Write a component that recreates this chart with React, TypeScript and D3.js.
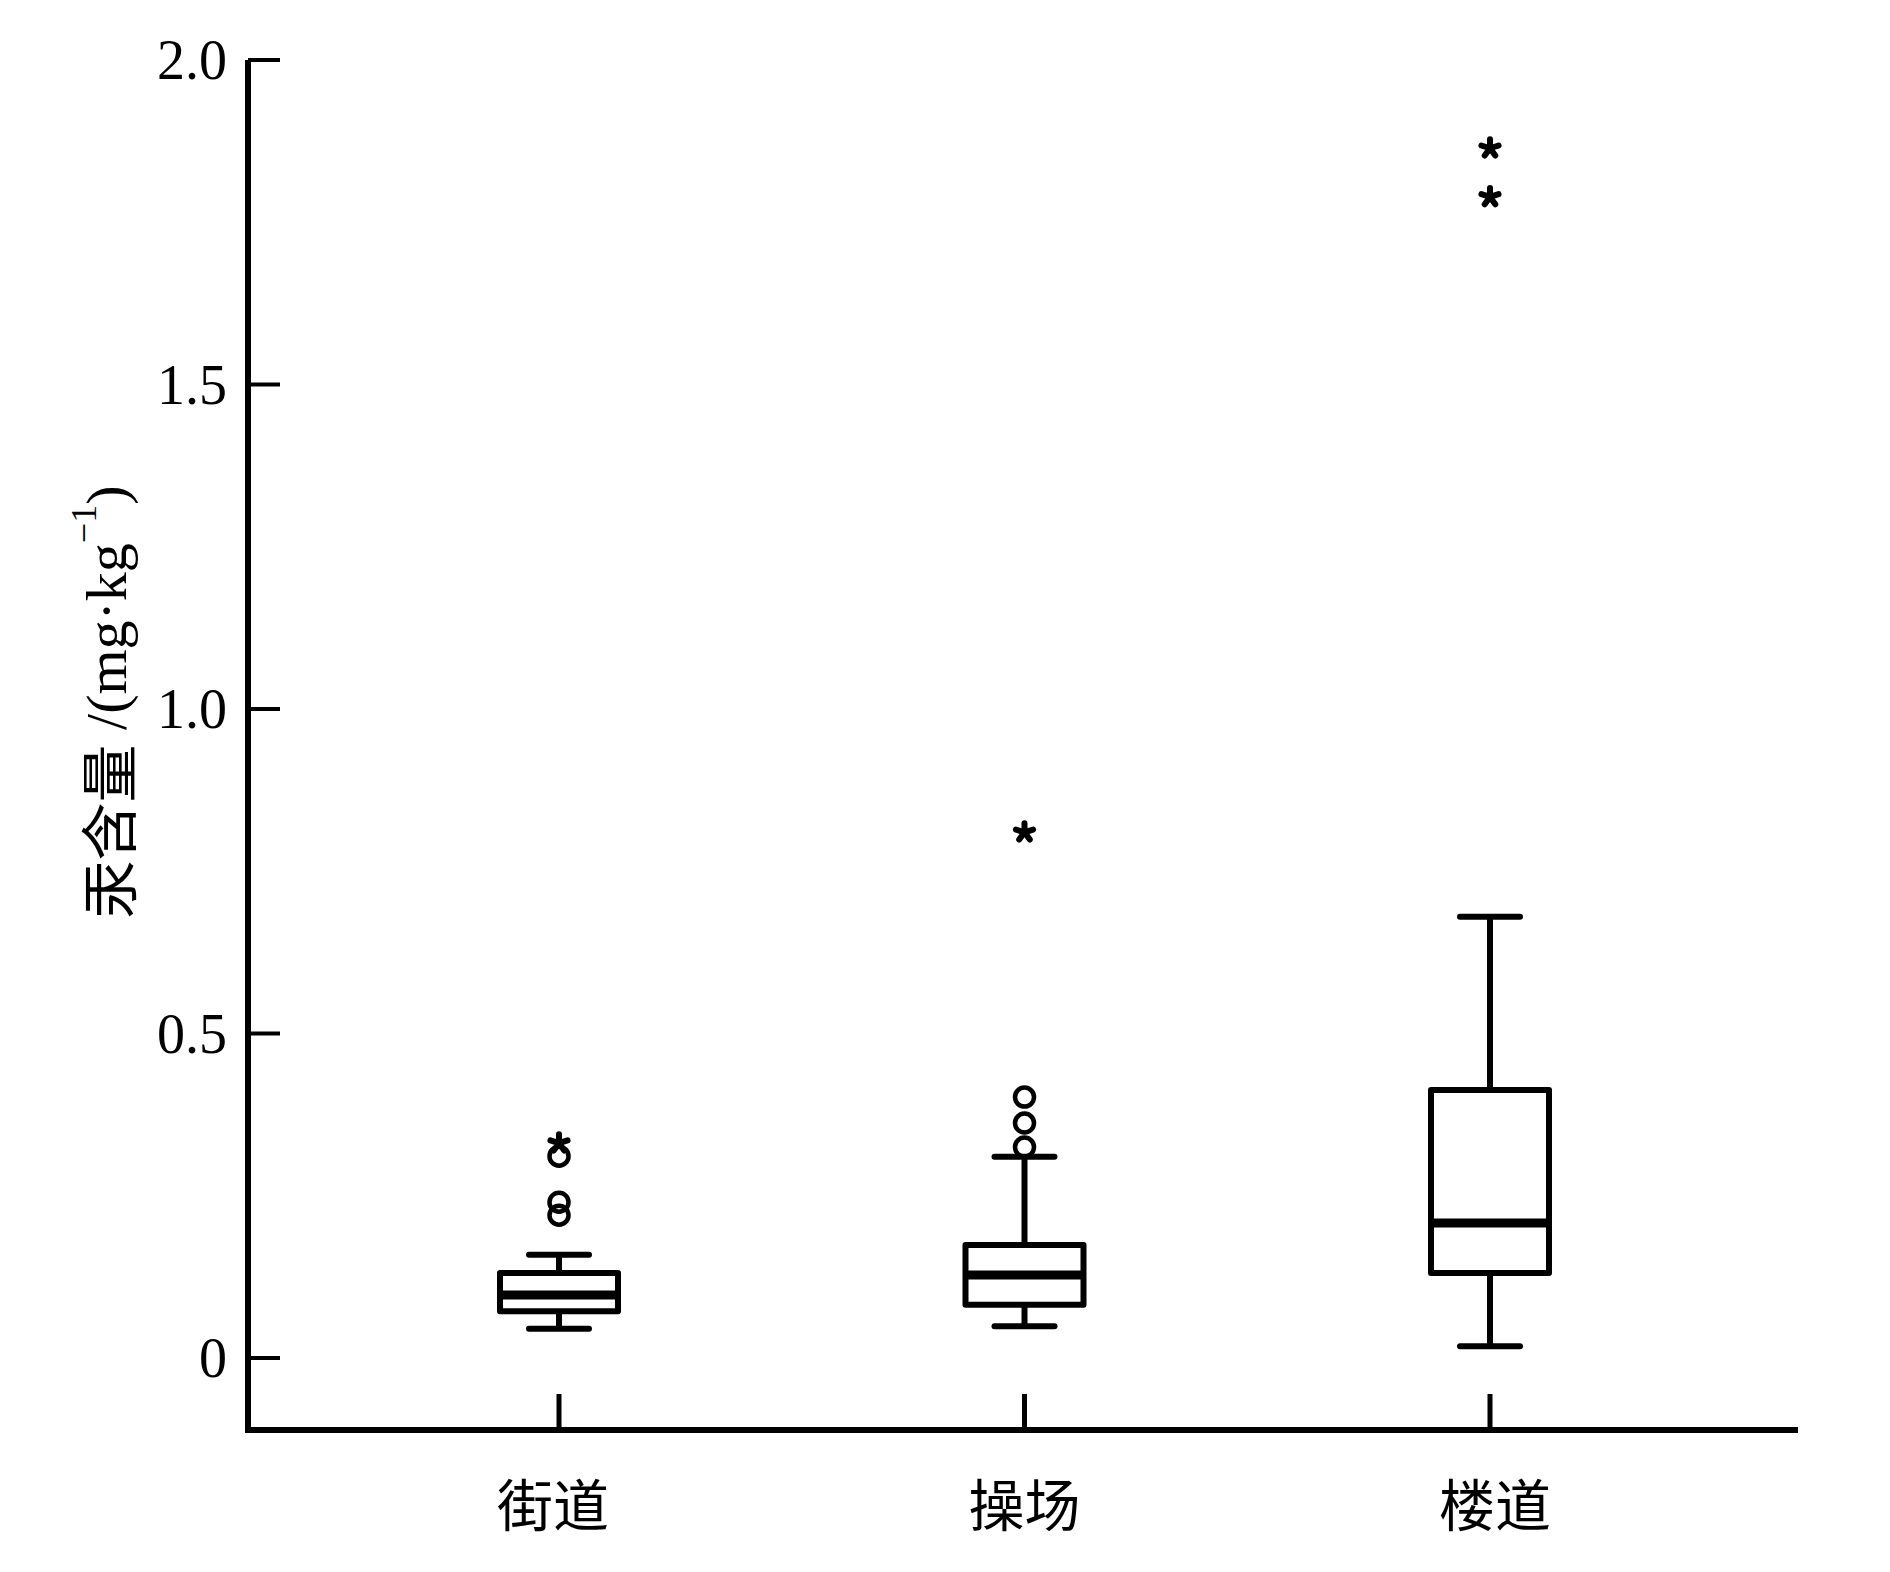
import React from "react";
import * as d3 from "d3";

const categories = ["街道", "操场", "楼道"];
const q1 = [0.072, 0.082, 0.131];
const medians = [0.097, 0.128, 0.208];
const q3 = [0.131, 0.174, 0.413];
const whiskerLow = [0.045, 0.049, 0.018];
const whiskerHigh = [0.159, 0.31, 0.68];
const circleOutliers = [[0.311, 0.24, 0.22], [0.402, 0.362, 0.325], []];
const starOutliers = [[0.331], [0.81], [1.864, 1.789]];
const yTicks = [0, 0.5, 1.0, 1.5, 2.0];
const yTickLabels = ["0", "0.5", "1.0", "1.5", "2.0"];
const labelShift = [-6, 0, 5];

const W = 1890;
const H = 1572;

export default function App() {
  const y = d3.scaleLinear().domain([0, 2]).range([1358, 60]);
  const x = d3.scalePoint<string>().domain(categories).range([559, 1490]);
  const axisX = 248;
  const axisY = 1430;
  const axisRight = 1798;
  const boxW = 118;
  const capW = 60;
  const sw = 6;
  const serif = "'Liberation Serif', 'Times New Roman', serif";
  const cjk = "'Noto Sans CJK SC', sans-serif";

  const star = (cx: number, cy: number, key: string) => {
    const arms = d3.range(5).map((i) => {
      const a = -Math.PI / 2 + (i * 2 * Math.PI) / 5;
      return (
        <line
          key={i}
          x1={cx}
          y1={cy}
          x2={cx + Math.cos(a) * 9}
          y2={cy + Math.sin(a) * 9}
          stroke="#000"
          strokeWidth={6}
          strokeLinecap="round"
        />
      );
    });
    return <g key={key}>{arms}</g>;
  };

  return (
    <svg
      width={W}
      height={H}
      style={{ position: "absolute", left: 0, top: 0, background: "#fff" }}
    >
      <rect x={0} y={0} width={W} height={H} fill="#fff" />
      {/* Y axis */}
      <line x1={axisX} y1={y(2)} x2={axisX} y2={axisY} stroke="#000" strokeWidth={6} />
      {/* X axis */}
      <line x1={axisX - 3} y1={axisY} x2={axisRight} y2={axisY} stroke="#000" strokeWidth={6} />
      {yTicks.map((t, i) => (
        <g key={"yt" + i}>
          <line x1={axisX} y1={y(t)} x2={axisX + 32} y2={y(t)} stroke="#000" strokeWidth={4} />
          <text
            x={227}
            y={y(t)}
            textAnchor="end"
            dominantBaseline="central"
            fontFamily={serif}
            fontSize={56}
            fill="#000"
          >
            {yTickLabels[i]}
          </text>
        </g>
      ))}
      {/* X ticks & labels */}
      {categories.map((c, i) => (
        <g key={"xt" + c}>
          <line x1={x(c)!} y1={1394} x2={x(c)!} y2={axisY} stroke="#000" strokeWidth={5} />
          <text
            x={x(c)! + labelShift[i]}
            y={1501}
            textAnchor="middle"
            dominantBaseline="central"
            fontFamily={cjk}
            fontSize={56}
            fill="#000"
          >
            {c}
          </text>
        </g>
      ))}
      {/* Y label */}
      <text
        transform={`translate(106, 702) rotate(-90)`}
        textAnchor="middle"
        dominantBaseline="central"
        fontSize={58}
        fill="#000"
      >
        <tspan fontFamily={cjk}>汞含量</tspan>
        <tspan fontFamily={serif}> /(mg·kg</tspan>
        <tspan fontFamily={serif} fontSize={36} dy={-22}>−1</tspan>
        <tspan fontFamily={serif} dy={22}>)</tspan>
      </text>
      {/* Boxes */}
      {categories.map((c, i) => {
        const cx = x(c)!;
        return (
          <g key={"box" + c}>
            <line x1={cx} y1={y(whiskerHigh[i])} x2={cx} y2={y(q3[i])} stroke="#000" strokeWidth={sw} />
            <line x1={cx} y1={y(q1[i])} x2={cx} y2={y(whiskerLow[i])} stroke="#000" strokeWidth={sw} />
            <line x1={cx - capW / 2} y1={y(whiskerHigh[i])} x2={cx + capW / 2} y2={y(whiskerHigh[i])} stroke="#000" strokeWidth={sw} strokeLinecap="round" />
            <line x1={cx - capW / 2} y1={y(whiskerLow[i])} x2={cx + capW / 2} y2={y(whiskerLow[i])} stroke="#000" strokeWidth={sw} strokeLinecap="round" />
            <rect
              x={cx - boxW / 2}
              y={y(q3[i])}
              width={boxW}
              height={y(q1[i]) - y(q3[i])}
              fill="#fff"
              stroke="#000"
              strokeWidth={sw}
              strokeLinejoin="round"
            />
            <line x1={cx - boxW / 2} y1={y(medians[i])} x2={cx + boxW / 2} y2={y(medians[i])} stroke="#000" strokeWidth={9} />
            {circleOutliers[i].map((v, j) => (
              <circle key={"c" + j} cx={cx} cy={y(v)} r={9.5} fill="none" stroke="#000" strokeWidth={4.5} />
            ))}
            {starOutliers[i].map((v, j) => star(cx, y(v), "s" + j))}
          </g>
        );
      })}
    </svg>
  );
}
